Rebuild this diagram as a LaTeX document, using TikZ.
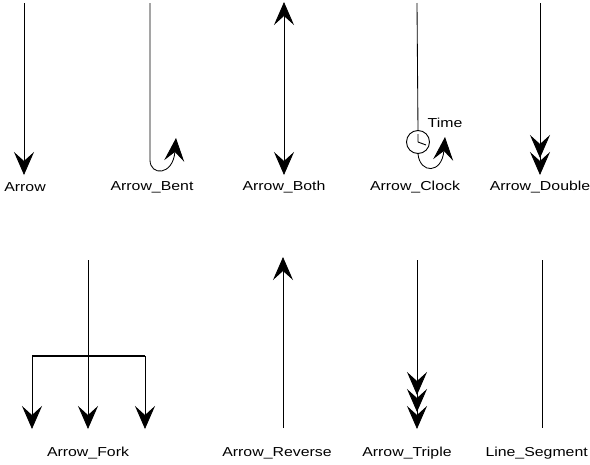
\documentclass[tikz,border=0pt]{standalone}
\usepackage{fontspec}
\newfontfamily\labelfont[FakeStretch=1.22]{Liberation Sans}
\usetikzlibrary{arrows.meta}
\tikzset{
	vline/.style={line width=0.85pt},
	bar/.style={line width=1.8pt},
	tag/.style={font=\labelfont\fontsize{13}{15}\selectfont, inner sep=0pt},
	bighead/.tip={Stealth[length=23pt, width=20pt, inset=9pt]}
}

\begin{document}
\begin{tikzpicture}[x=1pt, y=-1pt]
	\useasboundingbox (0,0) rectangle (590,464);

	%% ── Top row ─────────────────────────────────────────────────────
	% plain arrow
	\coordinate (arTop) at (24,3);
	\coordinate (arEnd) at (24,175);
	\draw[vline, -{bighead}] (arTop) -- (arEnd);
	\node[tag] (arLbl) at (25,187) {Arrow};

	% bent arrow
	\coordinate (bnTop) at (150,3);
	\coordinate (bnTurn) at (150,160);
	\coordinate (bnEnd) at (176,138);
	\draw[vline, -{bighead}] (bnTop) -- (bnTurn)
		.. controls (150,176) and (173,176) .. (bnEnd);
	\node[tag] (bnLbl) at (152,187) {Arrow\_Bent};

	% arrow with both heads
	\coordinate (btTop) at (284,2);
	\coordinate (btEnd) at (284,175);
	\draw[vline, {bighead}-{bighead}] (btTop) -- (btEnd);
	\node[tag] (btLbl) at (284,187) {Arrow\_Both};

	% clock arrow
	\coordinate (ckTop) at (417,3);
	\node[circle, draw, line width=0.9pt, minimum size=23pt, inner sep=0pt]
		(clock) at (418,142) {};
	\draw[vline] (ckTop) -- (clock.north);
	\draw[line width=0.9pt] (clock.center) -- ++(0,-8)
		(clock.center) -- ++(8,3);
	\coordinate (ckEnd) at (445,137);
	\draw[vline, -{bighead}] (clock.south)
		.. controls (420,174) and (442,174) .. (ckEnd);
	\node[tag] (ckTime) at (445,123) {Time};
	\node[tag] (ckLbl) at (415,187) {Arrow\_Clock};

	% double-headed arrow
	\coordinate (dbTop) at (540,3);
	\coordinate (dbEnd) at (540,175);
	\draw[vline, -{bighead[sep=-6pt] bighead}] (dbTop) -- (dbEnd);
	\node[tag] (dbLbl) at (540,187) {Arrow\_Double};

	%% ── Bottom row ──────────────────────────────────────────────────
	% fork
	\coordinate (fkTop) at (88,260);
	\coordinate (fkL) at (32,356);
	\coordinate (fkM) at (88,356);
	\coordinate (fkR) at (145,356);
	\draw[bar] (fkL) -- (fkR);
	\draw[vline, -{bighead}] (fkTop) -- (88,429);
	\draw[vline, -{bighead}] (fkL) -- (32,429);
	\draw[vline, -{bighead}] (fkR) -- (145,429);
	\node[tag] (fkLbl) at (88,453) {Arrow\_Fork};

	% reversed arrow
	\coordinate (rvBot) at (283,428);
	\coordinate (rvEnd) at (283,257);
	\draw[vline, -{bighead}] (rvBot) -- (rvEnd);
	\node[tag] (rvLbl) at (277,453) {Arrow\_Reverse};

	% triple-headed arrow
	\coordinate (tpTop) at (417,260);
	\coordinate (tpEnd) at (417,429);
	\draw[vline, -{bighead[sep=-6pt] bighead[sep=-6pt] bighead}] (tpTop) -- (tpEnd);
	\node[tag] (tpLbl) at (407,453) {Arrow\_Triple};

	% plain segment
	\coordinate (lsTop) at (542,260);
	\coordinate (lsBot) at (542,428);
	\draw[vline] (lsTop) -- (lsBot);
	\node[tag, anchor=east] (lsLbl) at (588,453) {Line\_Segment};
\end{tikzpicture}
\end{document}
